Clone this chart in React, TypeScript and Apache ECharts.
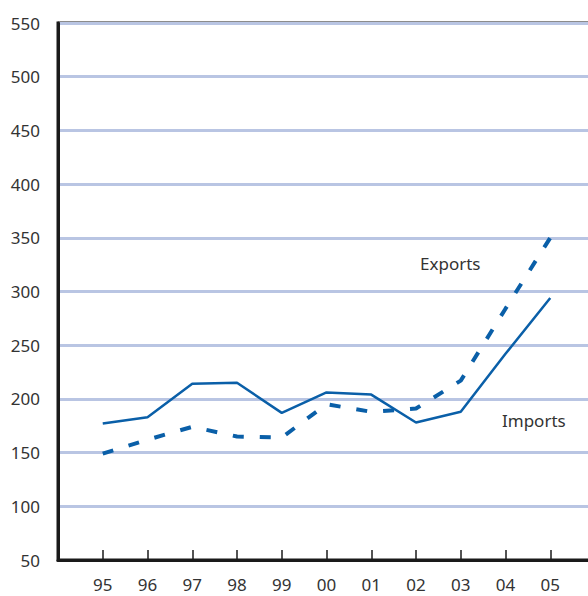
import React, { useEffect, useRef } from "react";
import * as echarts from "echarts";

const categories = ["", "95", "96", "97", "98", "99", "00", "01", "02", "03", "04", "05", ""];
const imports = [null, 177, 183, 214, 215, 187, 206, 204, 178, 188, 242, 294, null];
const exportsData = [null, 149, 162, 174, 165, 164, 195, 188, 191, 217, 284, 350, null];
const yMin = 50;
const yMax = 550;
const yStep = 50;

const BLUE = "#0a5fa8";
const TEXT = "#333333";
const FONT = "'Noto Sans', sans-serif";

export default function App() {
  const ref = useRef<HTMLDivElement>(null);
  useEffect(() => {
    if (!ref.current) return;
    const chart = echarts.init(ref.current, undefined, { renderer: "svg" });
    chart.setOption({
      animation: false,
      backgroundColor: "#ffffff",
      grid: {
        left: 58,
        top: 23,
        width: 537,
        height: 537,
        show: true,
        borderColor: "#1a1a1a",
        borderWidth: 3,
      },
      xAxis: {
        type: "category",
        data: categories,
        boundaryGap: false,
        axisLine: { show: true, lineStyle: { color: "#1a1a1a", width: 3 } },
        axisTick: { show: true, inside: true, length: 10, lineStyle: { color: "#1a1a1a", width: 1.5 } },
        axisLabel: { color: TEXT, fontSize: 17, fontFamily: FONT, margin: 16, interval: 0 },
        splitLine: { show: false },
      },
      yAxis: {
        type: "value",
        min: yMin,
        max: yMax,
        interval: yStep,
        axisLine: { show: true, lineStyle: { color: "#1a1a1a", width: 3 } },
        axisTick: { show: false },
        axisLabel: { color: TEXT, fontSize: 17, fontFamily: FONT, margin: 18 },
        splitLine: { show: true, lineStyle: { color: "#b9c5e3", width: 3 } },
      },
      series: [
        {
          name: "Imports",
          type: "line",
          data: imports,
          symbol: "none",
          lineStyle: { color: BLUE, width: 2.5 },
          z: 3,
        },
        {
          name: "Exports",
          type: "line",
          data: exportsData,
          symbol: "none",
          lineStyle: { color: BLUE, width: 4, type: [11, 16], cap: "butt" },
          z: 3,
        },
      ],
      graphic: [
        {
          type: "text",
          left: 420,
          top: 255,
          style: { text: "Exports", fill: TEXT, fontSize: 17, fontFamily: FONT },
        },
        {
          type: "text",
          left: 502,
          top: 412,
          style: { text: "Imports", fill: TEXT, fontSize: 17, fontFamily: FONT },
        },
      ],
    });
    return () => chart.dispose();
  }, []);
  return (
    <div
      style={{ position: "fixed", left: 0, top: 0, width: 588, height: 596, overflow: "hidden" }}
    >
      <div ref={ref} style={{ width: 600, height: 596 }} />
    </div>
  );
}
